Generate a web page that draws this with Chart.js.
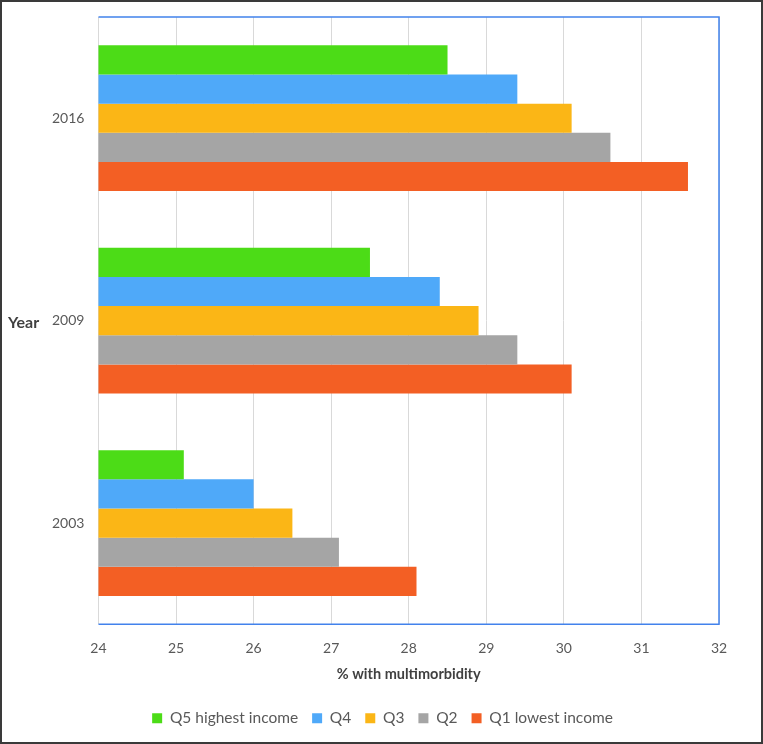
<!DOCTYPE html>
<html>
<head>
<meta charset="utf-8">
<script src="https://cdn.jsdelivr.net/npm/chart.js@4/dist/chart.umd.min.js"></script>
<style>
  html, body { margin: 0; padding: 0; background: #fff; }
  #wrap { width: 763px; height: 744px; box-sizing: border-box; border: 2px solid #3a3a3a; }
  canvas { display: block; }
</style>
</head>
<body>
<div id="wrap"><canvas id="chart" width="759" height="740"></canvas></div>
<script>
const years = ['2016', '2009', '2003']
const q5 = [28.5, 27.5, 25.1]
const q4 = [29.4, 28.4, 26.0]
const q3 = [30.1, 28.9, 26.5]
const q2 = [30.6, 29.4, 27.1]
const q1 = [31.6, 30.1, 28.1]
const xTicks = [24, 25, 26, 27, 28, 29, 30, 31, 32]

const fontFamily = 'Lato, "Open Sans", sans-serif'
const textColor = '#595959'

// blue frame on top/right/bottom of the plot area, plus the horizontal "Year" label
const framePlugin = {
    id: 'frame',
    afterDraw(chart) {
        const { ctx, chartArea } = chart
        ctx.save()
        ctx.strokeStyle = '#4282ec'
        ctx.lineWidth = 1.5
        ctx.beginPath()
        ctx.moveTo(chartArea.left, chartArea.top)
        ctx.lineTo(chartArea.right, chartArea.top)
        ctx.lineTo(chartArea.right, chartArea.bottom)
        ctx.lineTo(chartArea.left, chartArea.bottom)
        ctx.stroke()
        ctx.fillStyle = '#404040'
        ctx.font = 'bold 16px ' + fontFamily
        ctx.textBaseline = 'middle'
        ctx.fillText('Year', 6, (chartArea.top + chartArea.bottom) / 2 + 2)
        ctx.restore()
    }
}

const ds = (label, data, color) => ({
    label, data, backgroundColor: color, borderWidth: 0
})

new Chart(document.getElementById('chart'), {
    type: 'bar',
    data: {
        labels: years,
        datasets: [
            ds('Q5 highest income', q5, '#4cdc17'),
            ds('Q4', q4, '#4fa9f9'),
            ds('Q3', q3, '#fbb616'),
            ds('Q2', q2, '#a5a5a5'),
            ds('Q1 lowest income', q1, '#f35f24'),
        ],
    },
    options: {
        indexAxis: 'y',
        responsive: false,
        animation: false,
        categoryPercentage: 0.72,
        barPercentage: 1.0,
        layout: { padding: { left: 44, top: 15, right: 42, bottom: 6 } },
        scales: {
            x: {
                min: 24,
                max: 32,
                afterBuildTicks: (axis) => { axis.ticks = xTicks.map(v => ({ value: v })) },
                grid: { color: '#d9d9d9', drawTicks: false },
                border: { display: false },
                ticks: { color: textColor, font: { family: fontFamily, size: 14 }, padding: 16 },
                title: {
                    display: true,
                    text: '% with multimorbidity',
                    color: '#404040',
                    font: { family: fontFamily, size: 14.5, weight: 'bold' },
                    padding: { top: -7, bottom: 13 },
                },
            },
            y: {
                grid: { display: false },
                border: { display: false },
                ticks: { color: textColor, font: { family: fontFamily, size: 14 }, padding: 6 },
            },
        },
        plugins: {
            legend: {
                position: 'bottom',
                labels: {
                    color: textColor,
                    font: { family: fontFamily, size: 15.5 },
                    boxWidth: 10,
                    boxHeight: 10,
                    padding: 14,
                },
            },
            tooltip: { enabled: false },
        },
    },
    plugins: [framePlugin],
})
</script>
</body>
</html>
